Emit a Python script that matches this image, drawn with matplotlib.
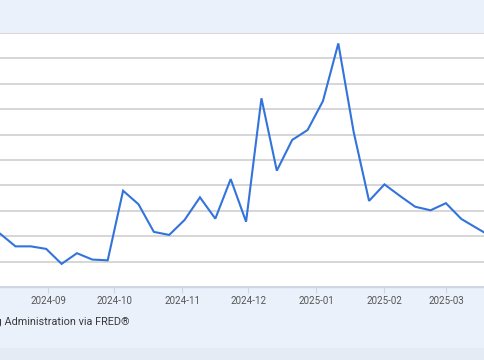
import numpy as np
import matplotlib.pyplot as plt
from matplotlib.patches import Rectangle

plt.rcParams['font.family'] = ['Roboto', 'DejaVu Sans']

# weekly values (week ending Saturday)
dates = ["2024-08-03", "2024-08-10", "2024-08-17", "2024-08-24", "2024-08-31",
         "2024-09-07", "2024-09-14", "2024-09-21", "2024-09-28",
         "2024-10-05", "2024-10-12", "2024-10-19", "2024-10-26",
         "2024-11-02", "2024-11-09", "2024-11-16", "2024-11-23", "2024-11-30",
         "2024-12-07", "2024-12-14", "2024-12-21", "2024-12-28",
         "2025-01-04", "2025-01-11", "2025-01-18", "2025-01-25",
         "2025-02-01", "2025-02-08", "2025-02-15", "2025-02-22",
         "2025-03-01", "2025-03-08", "2025-03-15", "2025-03-22"]
values = [2200, 2050, 1800, 1800, 1750,
          1455, 1665, 1540, 1525,
          2895, 2630, 2085, 2025,
          2320, 2765, 2345, 3125, 2285,
          4715, 3290, 3895, 4090,
          4660, 5795, 4050, 2695,
          3020, 2795, 2580, 2510,
          2650, 2340, 2160, 1985]

tick_dates = ["2024-09-01", "2024-10-01", "2024-11-01", "2024-12-01",
              "2025-01-01", "2025-02-01", "2025-03-01"]
tick_labels = ["2024-09", "2024-10", "2024-11", "2024-12",
               "2025-01", "2025-02", "2025-03"]

x = np.array(dates, dtype="datetime64[D]")
xt = np.array(tick_dates, dtype="datetime64[D]")

bg = "#eaf1fa"
fig = plt.figure(figsize=(4.85, 3.6), dpi=100, facecolor=bg)

# slightly darker strip at the very bottom of the page
fig.patches.append(Rectangle((0, 0), 1, 12 / 360, transform=fig.transFigure,
                             facecolor="#e4ebf5", edgecolor="none", zorder=0))

ax = fig.add_axes([0, 73 / 360, 1, 254 / 360])
ax.set_facecolor("white")

ax.plot(x, values, color="#3273dc", linewidth=1.5, solid_joinstyle="miter")

ax.set_xlim(np.datetime64("2024-08-09T23:00"), np.datetime64("2025-03-18T19:00"))
ax.set_ylim(1000, 6000)
ax.set_yticks(np.arange(1000, 6001, 500))
ax.yaxis.grid(True, color="#cfcfcf", linewidth=1.2)
ax.tick_params(axis="y", left=False, labelleft=False)

ax.set_xticks(xt)
ax.set_xticklabels(tick_labels)
ax.tick_params(axis="x", direction="out", length=4.5, width=0.8, color="#ccd6eb",
               labelsize=7, labelcolor="#555555", pad=2)

for s in ["top", "left", "right"]:
    ax.spines[s].set_visible(False)
ax.spines["bottom"].set_color("#ccd6eb")
ax.spines["bottom"].set_linewidth(1)

fig.text(129.5 / 485, 1 - 321.7 / 360,
         "Source: U.S. Employment and Training Administration via FRED\u00ae",
         ha="right", va="center", fontsize=7.8, color="#3a3a3a")

fig.savefig("out.png", dpi=100, facecolor=bg)
